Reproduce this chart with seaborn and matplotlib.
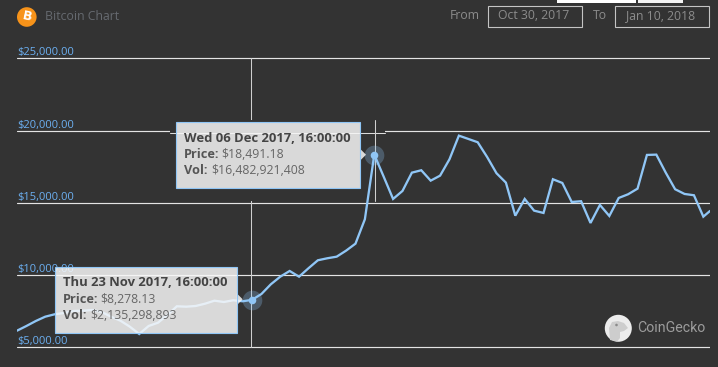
import matplotlib
matplotlib.use("Agg")
import matplotlib.pyplot as plt
import numpy as np
import pandas as pd
import seaborn as sns
from matplotlib.patches import Rectangle, Circle, Polygon, Ellipse
from matplotlib.lines import Line2D
from matplotlib.transforms import Affine2D

prices = [6143, 6468, 6814, 7112, 7278, 7368, 7507, 7528, 7576, 7438,
          7112, 6835, 6420, 5914, 6468, 6697, 7230, 7832, 7805, 7853,
          8012, 8220, 8130, 8248, 8179, 8278, 8684, 9356, 9882, 10277,
          9882, 10464, 11018, 11156, 11267, 11683, 12167, 13857, 18331, 16807,
          15263, 15817, 17084, 17250, 16530, 16876, 18012, 19646, 19418, 19189,
          18171, 17043, 16392, 14106, 15263, 14453, 14293, 16627, 16371, 15055,
          15104, 13601, 14847, 14086, 15332, 15588, 15976, 18310, 18331, 17084,
          15935, 15609, 15519, 14037, 14432]
dates = pd.date_range("2017-10-29 16:00", periods=74, freq="D").append(
    pd.DatetimeIndex(["2018-01-11 09:00"]))
y_ticks = [5000, 10000, 15000, 20000, 25000]
y_labels = ["$5,000.00", "$10,000.00", "$15,000.00", "$20,000.00", "$25,000.00"]
highlight = [25, 38]
tip_a = ["Thu 23 Nov 2017, 16:00:00", "$8,278.13", "$2,135,298,893"]
tip_b = ["Wed 06 Dec 2017, 16:00:00", "$18,491.18", "$16,482,921,408"]

BG = "#333333"
LINE = "#90c6f6"
W, H = 718, 367
FONT = "Open Sans"

sns.set_theme(style="dark")
plt.rcParams["font.family"] = [FONT, "DejaVu Sans"]
fig = plt.figure(figsize=(W / 100, H / 100), dpi=100, facecolor=BG)
# axes in pixels: left 17, right 710, top 55, bottom 350
ax = fig.add_axes([17 / W, 1 - 350 / H, (710 - 17) / W, (350 - 55) / H], facecolor=BG)
px = Affine2D().scale(1, -1).translate(0, H)

df = pd.DataFrame({"date": dates, "price": prices})
sns.lineplot(data=df, x="date", y="price", ax=ax, color=LINE, lw=1.65, zorder=3, solid_joinstyle="miter")
sel = df.iloc[highlight]
sns.scatterplot(data=sel, x="date", y="price", ax=ax, s=200, color=LINE, alpha=0.28, linewidth=0, zorder=3.1, legend=False)
sns.scatterplot(data=sel, x="date", y="price", ax=ax, s=30, color=LINE, linewidth=0, zorder=3.2, legend=False)

ax.set_xlim(dates[0], dates[-1])
ax.set_ylim(5000 - 2.8 * 69.25, 25000 + 3.3 * 69.25)
ax.set_xlabel(""); ax.set_ylabel("")
ax.set_xticks([])
ax.set_yticks(y_ticks)
ax.set_yticklabels(y_labels)
ax.tick_params(axis="y", length=0, pad=0, labelcolor="#6cb0f2", labelsize=8.0)
plt.setp(ax.get_yticklabels(), ha="left", va="bottom")
ax.grid(axis="y", color="#e4e4e4", lw=0.85)
ax.set_axisbelow(True)
for s in ax.spines.values():
    s.set_visible(False)


def add(artist):
    artist.set_transform(px)
    artist.set_clip_on(False)
    ax.add_artist(artist)
    return artist


def text(x, y, s, **kw):
    kw.setdefault("va", "center")
    kw.setdefault("ha", "left")
    return ax.text(x, y, s, transform=px, clip_on=False, **kw)


add(Line2D([251.4, 251.4], [58.3, 347], color="#cfcfcf", lw=0.75, zorder=0.9))
# pasted region of the second screenshot state
add(Rectangle((170, 120), 215, 81, fc=BG, ec="none", zorder=1))
add(Line2D([170, 385], [133, 133], color="#dcdcdc", lw=0.75, zorder=1.1))
add(Line2D([375.3, 375.3], [120, 201], color="#d0d0d0", lw=0.75, zorder=1.1))


def tooltip(x0, y0, w, h, ax_y, lines, vx1, vx2, rows):
    fc = (0.969, 0.969, 0.969, 0.85)
    add(Polygon([(x0 + w, ax_y - 6), (x0 + w + 6, ax_y), (x0 + w, ax_y + 6)], fc=fc, ec="none", zorder=4))
    add(Rectangle((x0, y0), w, h, fc=fc, ec=LINE, lw=0.8, zorder=4))
    tx = x0 + 8
    text(tx, rows[0], lines[0], fontsize=9.4, fontweight="bold", color="#444444", zorder=5)
    text(tx, rows[1], "Price:", fontsize=9.2, fontweight="bold", color="#555555", zorder=5)
    text(vx1, rows[1], lines[1], fontsize=8.8, color="#666666", zorder=5)
    text(tx, rows[2], "Vol:", fontsize=9.2, fontweight="bold", color="#555555", zorder=5)
    text(vx2, rows[2], lines[2], fontsize=8.8, color="#666666", zorder=5)


tooltip(55, 267.3, 181.7, 65.4, 299.3, tip_a, 100.7, 90, (283, 299.3, 315.7))
tooltip(176, 122, 184, 65.7, 154.7, tip_b, 221.7, 211, (138, 154.3, 170.7))

# header
add(Circle((26.8, 17), 9.8, fc="#f7931a", ec="none", zorder=6))
text(26.8, 17, "B", fontsize=9, fontweight="bold", color="white", ha="center", rotation=-12, zorder=7, family="DejaVu Sans")
text(45, 17, "Bitcoin Chart", fontsize=8.8, color="#666a70", zorder=6)
text(450, 15.5, "From", fontsize=8.8, color="#8c8c8c", zorder=6)
text(593, 15.5, "To", fontsize=8.8, color="#8c8c8c", zorder=6)
add(Rectangle((487.5, 5.5), 94, 21, fc="none", ec="#c4c4c4", lw=0.8, zorder=6))
add(Rectangle((614.5, 5.5), 94, 21, fc="none", ec="#c4c4c4", lw=0.8, zorder=6))
text(534, 15.5, "Oct 30, 2017", fontsize=8.8, color="#8c8c8c", ha="center", zorder=6)
text(660.5, 15.5, "Jan 10, 2018", fontsize=8.8, color="#8c8c8c", ha="center", zorder=6)
add(Rectangle((557, 0), 79, 2.5, fc="white", ec="none", zorder=6))
add(Rectangle((638, 0), 45, 2.5, fc="#f2f2f2", ec="none", zorder=6))

# CoinGecko mark
add(Circle((618.3, 328.3), 13.5, fc="#ececec", ec="none", zorder=6))
add(Polygon([(610, 340), (609, 328), (612, 322), (618, 321), (624, 323), (628, 328),
             (624, 331), (620, 332), (620, 338), (617, 341.5)], fc="#cdcdcd", ec="none", zorder=7))
add(Ellipse((616.5, 325), 2.6, 2.6, fc="#8a8a8a", ec="none", zorder=8))
text(637, 328, "CoinGecko", fontsize=10.2, color="#9c9c9c", family="Roboto", zorder=6)

fig.savefig("out.png", dpi=100, facecolor=BG)
